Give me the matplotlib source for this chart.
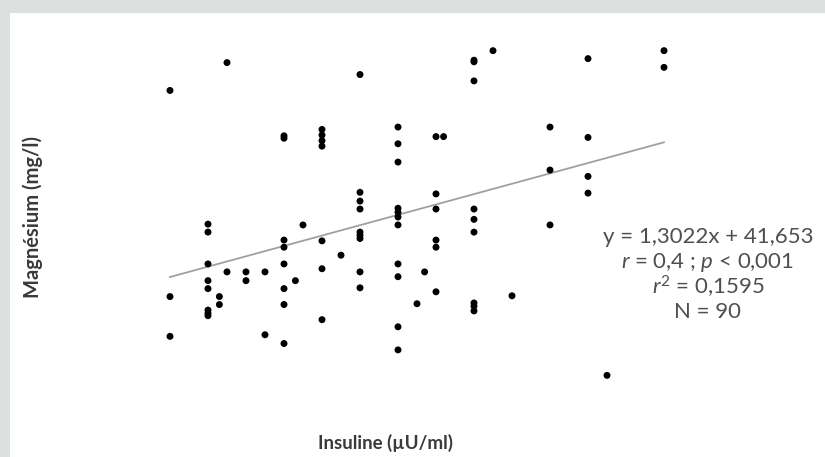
import numpy as np
import matplotlib
matplotlib.use("Agg")
import matplotlib.pyplot as plt
from matplotlib.patches import Rectangle

plt.rcParams['font.family'] = ['Lato', 'DejaVu Sans']
plt.rcParams['mathtext.fontset'] = 'custom'
plt.rcParams['mathtext.rm'] = 'Lato'
plt.rcParams['mathtext.it'] = 'Lato:italic'

# insulin (uU/ml) and magnesium (mg/l)
insuline = [2, 2, 2,
            3, 3, 3, 3, 3, 3, 3, 3,
            3.3, 3.3, 3.5, 3.5, 4, 4, 4.5, 4.5,
            5, 5, 5, 5, 5, 5, 5, 5,
            5.3, 5.5,
            6, 6, 6, 6, 6, 6, 6,
            6.5,
            7, 7, 7, 7, 7, 7, 7, 7, 7,
            8, 8, 8, 8, 8, 8, 8, 8, 8, 8, 8,
            8.5, 8.7,
            9, 9, 9, 9, 9, 9,
            9.2,
            10, 10, 10, 10, 10, 10, 10, 10, 10,
            10.5, 11,
            12, 12, 12,
            13, 13, 13, 13,
            13.5, 15, 15]
magnesium = [67.7, 41.8, 36.8,
             50.9, 49.9, 45.9, 43.8, 42.8, 40.1, 39.7, 39.4,
             41.8, 40.8, 71.2, 44.9, 44.9, 43.8, 44.9, 37.0,
             62.0, 61.7, 48.9, 48.0, 45.9, 42.8, 40.8, 35.9,
             43.8, 50.8,
             62.8, 62.1, 61.4, 60.7, 48.8, 45.3, 38.9,
             47.0,
             69.7, 54.9, 53.8, 52.8, 49.9, 49.5, 49.1, 44.9, 42.9,
             63.1, 61.0, 58.7, 52.9, 52.4, 51.8, 50.8, 45.9, 44.3, 38.0, 35.1,
             40.9, 44.9,
             61.9, 54.7, 52.8, 48.9, 48.0, 42.4,
             61.9,
             71.5, 71.3, 68.9, 52.8, 51.5, 49.9, 41.0, 40.6, 40.0,
             72.7, 41.9,
             63.1, 57.7, 50.8,
             71.7, 61.8, 56.9, 54.8,
             31.9, 72.7, 70.6]

slope, intercept = 1.3022, 41.653
fit_range = [2, 15]

fig = plt.figure(figsize=(8.25, 4.57), dpi=100, facecolor='#dce1df')
# white card, grey margin only on top and left
fig.patches.append(Rectangle((10 / 825, 0), 1, 1 - 13 / 457, transform=fig.transFigure,
                             facecolor='white', edgecolor='none', zorder=-10))

ax = fig.add_axes([150 / 825, 67 / 457, 540 / 825, 350 / 457])
ax.set_facecolor('none')
for s in ax.spines.values():
    s.set_visible(False)
ax.set_xticks([])
ax.set_yticks([])
ax.set_xlim(1.474, 15.684)
ax.set_ylim(30.06, 74.04)

xf = np.array(fit_range)
ax.plot(xf, slope * xf + intercept, color='#a0a0a0', lw=1.3, zorder=1)
ax.scatter(insuline, magnesium, s=25, color='black', edgecolors='none', zorder=2)

stats = ["y = 1,3022x + 41,653",
         r"$r$ = 0,4 ; $p$ < 0,001",
         r"$r^2$ = 0,1595",
         "N = 90"]
for i, line in enumerate(stats):
    fig.text(708 / 825, 1 - (237 + 25 * i) / 457, line, ha='center', va='center',
             fontsize=16, color='#4f4f4f')

fig.text(33 / 825, 1 - 217 / 457, "Magnésium (mg/l)", rotation=90, ha='center', va='center',
         fontsize=14.5, fontweight='bold', color='#3a3a3a')
fig.text(385 / 825, 1 - 443 / 457, "Insuline (µU/ml)", ha='center', va='center',
         fontsize=13.5, fontweight='bold', color='#3a3a3a')

fig.savefig('out.png', dpi=100, facecolor=fig.get_facecolor())
